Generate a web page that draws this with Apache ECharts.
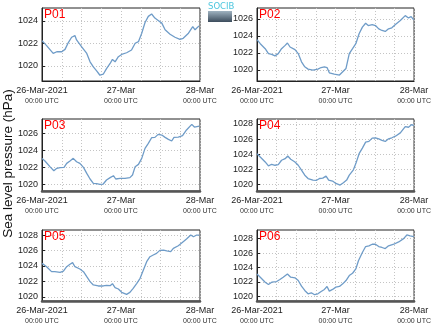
<!DOCTYPE html>
<html><head><meta charset="utf-8">
<script src="https://cdn.jsdelivr.net/npm/echarts@6/dist/echarts.min.js"></script>
<style>html,body{margin:0;padding:0;background:#fff}#c{width:434px;height:327px}</style>
</head><body><div id="c"></div>
<script>
// Hours since 26-Mar-2021 00:00 UTC, and sea level pressure (hPa)
const hoursP01 = [0,1.4,3.4,4.5,6,7,8,9,10,10.5,12,13.6,14.6,15.6,16.6,17.6,18.6,19.6,20.7,21.4,22.2,23.2,24.2,25.7,27.2,28.3,29.3,30.3,31.3,32.3,33.3,34.3,35.3,36.4,37.4,38.9,40.4,41.9,42.9,44.5,45.8,46.5,47.7];
const slpP01 = [1022.24,1021.80,1021.11,1021.26,1021.26,1021.47,1022.07,1022.54,1022.69,1022.30,1021.71,1021.11,1020.37,1019.92,1019.57,1019.18,1019.27,1019.77,1020.22,1020.58,1020.37,1020.82,1021.02,1021.17,1021.41,1022.01,1022.15,1022.90,1023.85,1024.39,1024.60,1024.24,1024.03,1023.79,1023.20,1022.81,1022.54,1022.36,1022.45,1022.90,1023.49,1023.20,1023.55];

const hoursP02 = [0,1,2.5,3.5,4.5,5.5,6.5,7.5,8.6,9.3,10.1,11.6,12.6,13.6,14.6,15.6,17.1,18.6,19.6,20.6,21.4,22.1,23.6,25.2,26.2,27.2,28.2,29.2,30.2,31.2,32.2,33.2,34,35.2,36.2,37.2,38.2,39.2,40.2,41.2,42.3,43.8,45.3,46.3,47.1,47.9];
const slpP02 = [1023.55,1023.08,1022.49,1021.91,1021.83,1021.64,1021.91,1022.49,1022.88,1023.16,1022.69,1022.38,1021.91,1020.94,1020.35,1020.08,1019.96,1020.08,1020.27,1020.35,1020.27,1019.65,1019.49,1019.38,1019.77,1020.16,1021.91,1022.49,1023.08,1024.25,1025.03,1025.49,1025.22,1025.34,1025.22,1024.83,1024.64,1024.52,1024.83,1024.95,1025.34,1025.81,1026.39,1026.12,1026.27,1025.88];

const hoursP03 = [0,0.9,2.4,3.6,4.5,5.5,6.7,7.5,8.5,9.5,10.5,11.5,12.6,13.6,14.6,15.6,16.6,17.6,18.6,19.6,20.7,21.7,22.4,23.7,25.2,26.7,27.5,28.3,29.3,30.3,31.3,32.3,33.3,34.3,35.3,36.4,37.4,38.4,39.4,40.1,41.4,42.7,43.9,45.5,46.3,47.8];
const slpP03 = [1023.06,1022.74,1022.07,1021.59,1021.87,1021.95,1021.99,1022.46,1022.74,1023.06,1022.66,1022.46,1021.99,1021.27,1020.60,1020.08,1020.04,1019.96,1020.00,1020.48,1020.76,1020.99,1020.60,1020.68,1020.68,1020.76,1021.07,1022.07,1022.34,1023.06,1024.25,1024.85,1025.52,1025.56,1025.92,1025.84,1025.56,1025.32,1025.13,1025.56,1025.60,1025.76,1026.44,1027.11,1026.79,1026.91];

const hoursP04 = [0,1,2.5,3.5,4.5,5.5,6.5,7.5,8.6,9.4,10.3,11.6,12.6,13.6,14.6,15.6,17.1,18.1,19.1,20.1,21.1,21.9,23.1,24.1,25.4,26.4,27.4,28.2,29.4,30.2,31.2,32.2,33.2,34.2,35.2,36.2,37.2,38.2,39.2,40.2,41.2,42.3,43.8,45.3,46.3,47.3,47.9];
const slpP04 = [1024.07,1023.63,1022.98,1022.45,1022.67,1022.54,1022.63,1023.20,1023.41,1023.76,1023.33,1022.98,1022.54,1021.89,1021.23,1020.79,1020.58,1020.53,1020.79,1020.84,1021.10,1020.58,1020.45,1020.14,1019.92,1020.23,1020.58,1021.23,1021.89,1022.76,1024.07,1024.81,1025.60,1025.69,1026.12,1026.17,1026.03,1025.82,1025.69,1026.03,1026.17,1026.38,1026.82,1027.65,1027.56,1027.91,1027.78];

const hoursP05 = [0,1.4,2.9,3.9,5.5,6.5,7.5,8.5,9.3,10,11.5,12.6,13.6,14.6,15.6,17.1,18.6,19.6,20.7,21.4,22.2,23.2,24.2,25.7,26.7,27.7,28.8,29.8,30.8,31.8,32.8,33.8,34.8,35.8,36.9,37.9,39.1,39.9,41.4,42.9,43.9,45.2,46,47,47.8];
const slpP05 = [1024.34,1023.91,1023.27,1023.27,1023.18,1023.35,1023.91,1024.22,1024.43,1023.91,1023.61,1023.27,1022.62,1021.98,1021.55,1021.42,1021.42,1021.51,1021.46,1021.72,1021.20,1021.03,1020.60,1020.34,1020.60,1021.12,1021.76,1022.41,1023.48,1024.56,1025.20,1025.42,1025.63,1026.02,1026.06,1025.94,1025.85,1026.28,1026.62,1027.14,1027.48,1028.00,1027.78,1028.00,1028.00];

const hoursP06 = [0,1,2.5,3.5,4.5,6,7,8,9.3,10.3,11.6,12.6,13.6,14.6,15.6,16.6,17.6,18.6,19.6,20.6,21.4,22.1,23.1,24.1,25.2,26.2,27.2,28.2,29.2,30.2,31,32.2,33.2,34.2,35.2,36.2,37.2,38.2,39.2,40.2,41.8,43.3,44.8,45.8,46.8,47.9];
const slpP06 = [1023.11,1022.66,1021.97,1021.65,1021.97,1022.06,1022.34,1022.66,1023.11,1022.66,1022.57,1022.20,1021.42,1020.83,1020.37,1020.51,1020.24,1020.37,1020.69,1020.97,1021.38,1020.74,1020.97,1021.29,1021.38,1021.74,1022.20,1022.89,1023.21,1023.80,1024.94,1026.08,1026.90,1027.00,1027.22,1027.22,1026.90,1026.77,1026.63,1027.00,1027.22,1027.54,1028.00,1028.50,1028.37,1028.27];

const stationNames = ['P01','P02','P03','P04','P05','P06'];
const yTicksP01 = [1020,1022,1024];
const yTicksP02 = [1020,1022,1024,1026];
const yTicksP03 = [1020,1022,1024,1026];
const yTicksP04 = [1020,1022,1024,1026,1028];
const yTicksP05 = [1020,1022,1024,1026,1028];
const yTicksP06 = [1020,1022,1024,1026,1028];
const yRanges = [[1018.67,1025.13],[1018.68,1027.29],[1019.17,1027.75],[1019.14,1028.65],[1019.48,1028.65],[1019.37,1029.19]];
const xTickHours = [0,24,48];
const xTickLabels = ['26-Mar-2021','27-Mar','28-Mar'];
const xSubLabel = '00:00 UTC';
const yAxisTitle = 'Sea level pressure (hPa)';

const hoursAll = [hoursP01,hoursP02,hoursP03,hoursP04,hoursP05,hoursP06];
const slpAll = [slpP01,slpP02,slpP03,slpP04,slpP05,slpP06];
const yTicksAll = [yTicksP01,yTicksP02,yTicksP03,yTicksP04,yTicksP05,yTicksP06];

const gridPos = [
  {left:42,top:8,width:158,height:73},
  {left:257,top:8,width:159,height:73},
  {left:42,top:119,width:158,height:72},
  {left:257,top:119,width:159,height:72},
  {left:42,top:230,width:158,height:71},
  {left:257,top:230,width:159,height:71}
];

const dotted = {color:'#c4c4c4',type:[1,2],width:1};
const grids=[],xAxes=[],yAxes=[],series=[],titles=[];
for(let i=0;i<6;i++){
  const g=gridPos[i];
  grids.push({left:g.left,top:g.top,width:g.width,height:g.height,show:true,borderColor:'#222',borderWidth:1,backgroundColor:'#fff',containLabel:false});
  xAxes.push({
    type:'value',gridIndex:i,min:0,max:48,interval:6,
    axisLine:{show:true,lineStyle:{color: i<2?'#222':'#555',width: i<2?1:2.5}},
    axisTick:{show:false},
    splitLine:{show:true,lineStyle:dotted},
    axisLabel:{
      showMinLabel:true,showMaxLabel:true,margin:5,
      formatter:function(v){const k=xTickHours.indexOf(v); return k<0?'':'{a|'+xTickLabels[k]+'}\n{b|'+xSubLabel+'}';},
      rich:{a:{fontFamily:'Liberation Sans',fontSize:9,color:'#222',lineHeight:10},b:{fontFamily:'Liberation Sans',fontSize:7,color:'#333',lineHeight:11}}
    }
  });
  yAxes.push({
    type:'value',gridIndex:i,min:yRanges[i][0],max:yRanges[i][1],
    axisLine:{show:true,lineStyle:{color:'#222'}},
    axisTick:{show:true,inside:true,length:3,lineStyle:{color:'#222'},customValues:yTicksAll[i]},
    axisLabel:{customValues:yTicksAll[i],formatter:function(v){return String(Math.round(v));},fontFamily:'Liberation Sans',fontSize:9,color:'#222',margin:4},
    splitLine:{show:false}
  });
  series.push({
    type:'line',xAxisIndex:i,yAxisIndex:i,showSymbol:false,smooth:false,
    lineStyle:{color:'#6f9cc8',width:1.3},
    data:hoursAll[i].map((h,j)=>[h,slpAll[i][j]]),
    markLine:{silent:true,symbol:'none',label:{show:false},lineStyle:dotted,animation:false,z:0,
      data:yTicksAll[i].map(v=>({yAxis:v}))},
    animation:false
  });
  titles.push({text:stationNames[i],left:g.left+2,top:g.top+1,padding:0,
    textStyle:{color:'#ff0000',fontSize:12,fontWeight:'normal',fontFamily:'Liberation Sans'}});
}

const chart=echarts.init(document.getElementById('c'),null,{renderer:'canvas'});
chart.setOption({
  animation:false,
  title:titles,
  grid:grids,xAxis:xAxes,yAxis:yAxes,series:series,
  graphic:[
    {type:'text',left:1,top:'middle',rotation:Math.PI/2,
     style:{text:yAxisTitle,fontSize:13.5,fontFamily:'Liberation Sans',fill:'#111'}},
    {type:'text',left:208,top:2,style:{text:'SOCIB',fontSize:8.5,fontFamily:'DejaVu Sans',fill:'#4cc6de'}},
    {type:'rect',shape:{x:208,y:11,width:24,height:11},
     style:{fill:new echarts.graphic.LinearGradient(0,0,0,1,[{offset:0,color:'#9fb2c0'},{offset:1,color:'#3c4c5c'}])}}
  ]
});
</script></body></html>
